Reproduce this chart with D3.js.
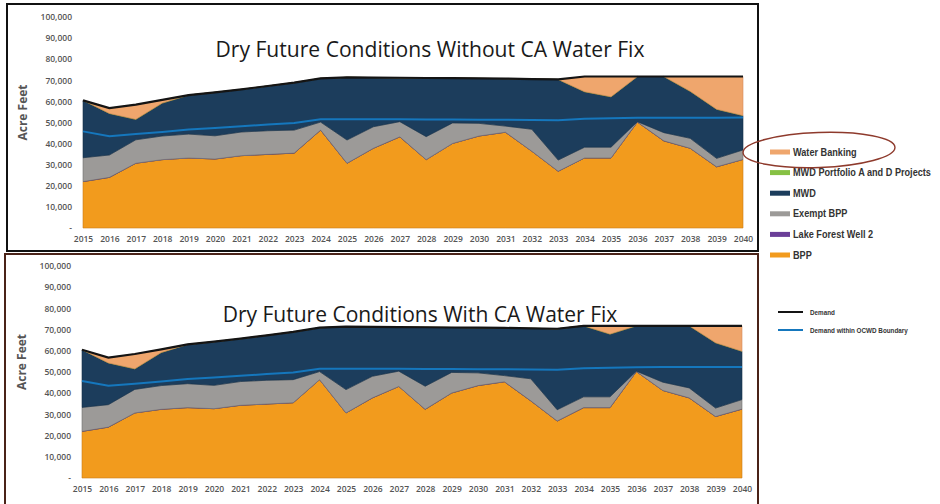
<!DOCTYPE html>
<html>
<head>
<meta charset="utf-8">
<script src="https://cdn.jsdelivr.net/npm/d3@7"></script>
<style>
  body { margin: 0; background: #fff; }
  svg { display: block; }
  .tick text { font-family: "Open Sans", "Liberation Sans", sans-serif; font-weight: 600; fill: #555; }
</style>
</head>
<body>
<svg id="chart" width="940" height="504"></svg>
<script>
// years on the x axis
const years = [2015, 2016, 2017, 2018, 2019, 2020, 2021, 2022, 2023, 2024, 2025, 2026, 2027,
    2028, 2029, 2030, 2031, 2032, 2033, 2034, 2035, 2036, 2037, 2038, 2039, 2040]

const yTicks = [0, 10000, 20000, 30000, 40000, 50000, 60000, 70000, 80000, 90000, 100000]

// supply (acre feet), same in both scenarios
const bpp = [22000, 24000, 30700, 32400, 33200, 32700, 34300, 34900, 35500, 46400, 30700, 37800, 43200,
    32400, 40100, 43600, 45400, 36400, 26900, 33200, 33200, 50200, 41300, 37800, 29000, 32500]
const lakeForest = [0, 0, 0, 0, 0, 0, 0, 0, 0, 0, 0, 0, 0, 0, 0, 0, 0, 0, 0, 0, 0, 0, 0, 0, 0, 0]
const exemptBpp = [11300, 10600, 11100, 11200, 11300, 11000, 11200, 11200, 10900, 3800, 11000, 10200, 7200,
    10900, 9700, 6000, 2900, 10400, 5300, 5100, 5100, 200, 3900, 4700, 4000, 4500]
const mwdPortfolio = [0, 0, 0, 0, 0, 0, 0, 0, 0, 0, 0, 0, 0, 0, 0, 0, 0, 0, 0, 0, 0, 0, 0, 0, 0, 0]

// without CA Water Fix
const mwdWithout = [27200, 19700, 9700, 15600, 18500, 20600, 20200, 21200, 22500, 20700, 29700, 23300, 20800,
    27800, 21200, 21300, 22500, 23800, 38200, 26300, 23900, 21400, 26600, 22300, 23300, 16300]
const bankingWithout = [0, 2500, 7000, 1500, 0, 0, 0, 0, 0, 0, 0, 0, 0,
    0, 0, 0, 0, 0, 0, 7200, 9600, 0, 0, 7000, 15500, 18500]

// with CA Water Fix
const mwdWith = [27200, 19700, 9700, 15600, 18500, 20600, 20200, 21200, 22500, 20700, 29700, 23300, 20800,
    27800, 21200, 21300, 22500, 23800, 38200, 33500, 29600, 21400, 26600, 29300, 30800, 22800]
const bankingWith = [0, 2500, 7000, 1500, 0, 0, 0, 0, 0, 0, 0, 0, 0,
    0, 0, 0, 0, 0, 0, 0, 3900, 0, 0, 0, 8000, 12000]

// demand lines
const demand = [60500, 56800, 58500, 60700, 63000, 64300, 65700, 67300, 68900, 70900, 71400, 71300, 71200,
    71100, 71000, 70900, 70800, 70600, 70400, 71800, 71800, 71800, 71800, 71800, 71800, 71800]
const ocwdDemand = [45800, 43500, 44500, 45500, 46700, 47400, 48200, 49000, 49800, 51500, 51500, 51500, 51500,
    51400, 51400, 51300, 51300, 51200, 51100, 51800, 52000, 52200, 52300, 52300, 52300, 52400]

const seriesNames = ["BPP", "Lake Forest Well 2", "Exempt BPP", "MWD", "MWD Portfolio A and D Projects", "Water Banking"]
const legendOrder = ["Water Banking", "MWD Portfolio A and D Projects", "MWD", "Exempt BPP", "Lake Forest Well 2", "BPP"]
const colors = {
    "BPP": "#f29b1d",
    "Lake Forest Well 2": "#6b3f98",
    "Exempt BPP": "#9c9a98",
    "MWD": "#1c3d5c",
    "MWD Portfolio A and D Projects": "#86c144",
    "Water Banking": "#efa66d"
}
const strokes = {
    "BPP": "#c97c18",
    "Lake Forest Well 2": "#4b2a70",
    "Exempt BPP": "#707070",
    "MWD": "#162f47",
    "MWD Portfolio A and D Projects": "#5c8c2c",
    "Water Banking": "#d4895a"
}

const svg = d3.select("#chart")

// boxes around the two charts
svg.append("rect").attr("x", 7).attr("y", 4).attr("width", 751).attr("height", 247)
    .attr("fill", "#fff").attr("stroke", "#111").attr("stroke-width", 2)
svg.append("rect").attr("x", 5).attr("y", 254).attr("width", 753).attr("height", 260)
    .attr("fill", "#fff").attr("stroke", "#4a2318").attr("stroke-width", 2)

function chart(opts) {
    const table = years.map((yr, i) => ({
        year: yr,
        "BPP": bpp[i],
        "Lake Forest Well 2": lakeForest[i],
        "Exempt BPP": exemptBpp[i],
        "MWD": opts.mwd[i],
        "MWD Portfolio A and D Projects": mwdPortfolio[i],
        "Water Banking": opts.banking[i]
    }))

    const stacked = d3.stack().keys(seriesNames)(table)

    const x = d3.scaleLinear().domain([2015, 2040]).range([opts.left, opts.right])
    const y = d3.scaleLinear().domain([0, 100000]).range([opts.bottom, opts.top])

    const g = svg.append("g")

    const area = d3.area()
        .x(d => x(d.data.year))
        .y0(d => y(d[0]))
        .y1(d => y(d[1]))

    g.selectAll(".layer")
        .data(stacked)
        .enter().append("path")
        .attr("class", "layer")
        .attr("d", area)
        .attr("fill", d => colors[d.key])
        .attr("stroke", d => strokes[d.key])
        .attr("stroke-width", 0.6)
        .attr("stroke-linejoin", "round")

    const line = d3.line()
        .x((d, i) => x(years[i]))
        .y(d => y(d))

    g.append("path").datum(ocwdDemand)
        .attr("d", line)
        .attr("fill", "none")
        .attr("stroke", "#1577bd")
        .attr("stroke-width", 2)

    g.append("path").datum(demand)
        .attr("d", line)
        .attr("fill", "none")
        .attr("stroke", "#141414")
        .attr("stroke-width", 2.2)

    const yAxis = d3.axisLeft(y)
        .tickValues(yTicks)
        .tickSize(0)
        .tickPadding(11)
        .tickFormat(v => v === 0 ? "-" : d3.format(",")(v))

    g.append("g")
        .attr("transform", `translate(${opts.left},0)`)
        .call(yAxis)
        .call(a => a.select(".domain").remove())
        .selectAll("text").style("font-size", "8.5px")

    const xAxis = d3.axisBottom(x)
        .tickValues(years)
        .tickSize(0)
        .tickPadding(8)
        .tickFormat(d => d)

    g.append("g")
        .attr("transform", `translate(0,${opts.bottom})`)
        .call(xAxis)
        .call(a => a.select(".domain").remove())
        .selectAll("text").style("font-size", "8.5px")

    // axis title
    g.append("text")
        .attr("transform", `translate(${opts.labelX},${(opts.top + opts.bottom) / 2 - 10}) rotate(-90)`)
        .attr("text-anchor", "middle")
        .attr("dy", "0.35em")
        .style("font-family", "'Open Sans', sans-serif")
        .style("font-size", "12px")
        .style("font-weight", "700")
        .style("fill", "#555")
        .text("Acre Feet")

    // chart title, sized to the width it takes in the slide
    const title = g.append("text")
        .attr("x", opts.titleX)
        .attr("y", opts.titleY)
        .attr("text-anchor", "middle")
        .style("font-family", "'Open Sans', sans-serif")
        .style("font-size", "20px")
        .style("fill", "#1a1a1a")
        .text(opts.title)
    const w = title.node().getComputedTextLength()
    title.style("font-size", (20 * opts.titleW / w) + "px")
}

chart({
    title: "Dry Future Conditions Without CA Water Fix",
    mwd: mwdWithout, banking: bankingWithout,
    left: 83, right: 743, top: 17, bottom: 228,
    labelX: 23, titleX: 430, titleY: 57, titleW: 429
})

chart({
    title: "Dry Future Conditions With CA Water Fix",
    mwd: mwdWith, banking: bankingWith,
    left: 82, right: 742, top: 266, bottom: 478,
    labelX: 22, titleX: 420, titleY: 322, titleW: 395
})

// the slide uses a narrow face: squeeze each group of texts horizontally
// so the widest one is `target` px wide
function squeeze(groups, target) {
    let widest = 0
    groups.forEach(gr => { widest = Math.max(widest, gr.select("text").node().getComputedTextLength()) })
    const k = target / widest
    groups.forEach(gr => {
        gr.attr("transform", gr.attr("transform") + ` scale(${k},1)`)
    })
}

// legend for the supply areas
const legend = svg.append("g").attr("transform", "translate(770,152)")
const legTexts = []
legendOrder.forEach((name, i) => {
    const row = legend.append("g").attr("transform", `translate(0,${i * 20.6})`)
    row.append("rect").attr("x", 0).attr("y", -2.5).attr("width", 20).attr("height", 5)
        .attr("fill", colors[name])
    const tg = row.append("g").attr("transform", "translate(23,0)")
    tg.append("text").attr("x", 0).attr("y", 0).attr("dy", "0.35em")
        .style("font-family", "'Liberation Sans', Arial, sans-serif")
        .style("font-size", "10px").style("font-weight", "700").style("fill", "#333")
        .text(name)
    legTexts.push(tg)
})
squeeze(legTexts, 138)

// the circled item
svg.append("ellipse")
    .attr("cx", 819).attr("cy", 150).attr("rx", 76).attr("ry", 17.5)
    .attr("transform", "rotate(-2 819 150)")
    .attr("fill", "none").attr("stroke", "#8e3a2c").attr("stroke-width", 1.4)

// legend for the demand lines
const lineLegend = [["Demand", "#141414"], ["Demand within OCWD Boundary", "#1577bd"]]
const lineTexts = []
lineLegend.forEach((d, i) => {
    const yy = 312 + i * 18
    svg.append("line").attr("x1", 778).attr("x2", 803).attr("y1", yy).attr("y2", yy)
        .attr("stroke", d[1]).attr("stroke-width", 2)
    const tg = svg.append("g").attr("transform", `translate(810,${yy})`)
    tg.append("text").attr("x", 0).attr("y", 0).attr("dy", "0.35em")
        .style("font-family", "'Liberation Sans', Arial, sans-serif")
        .style("font-size", "7.5px").style("font-weight", "700").style("fill", "#333")
        .text(d[0])
    lineTexts.push(tg)
})
squeeze(lineTexts, 98)
</script>
</body>
</html>
